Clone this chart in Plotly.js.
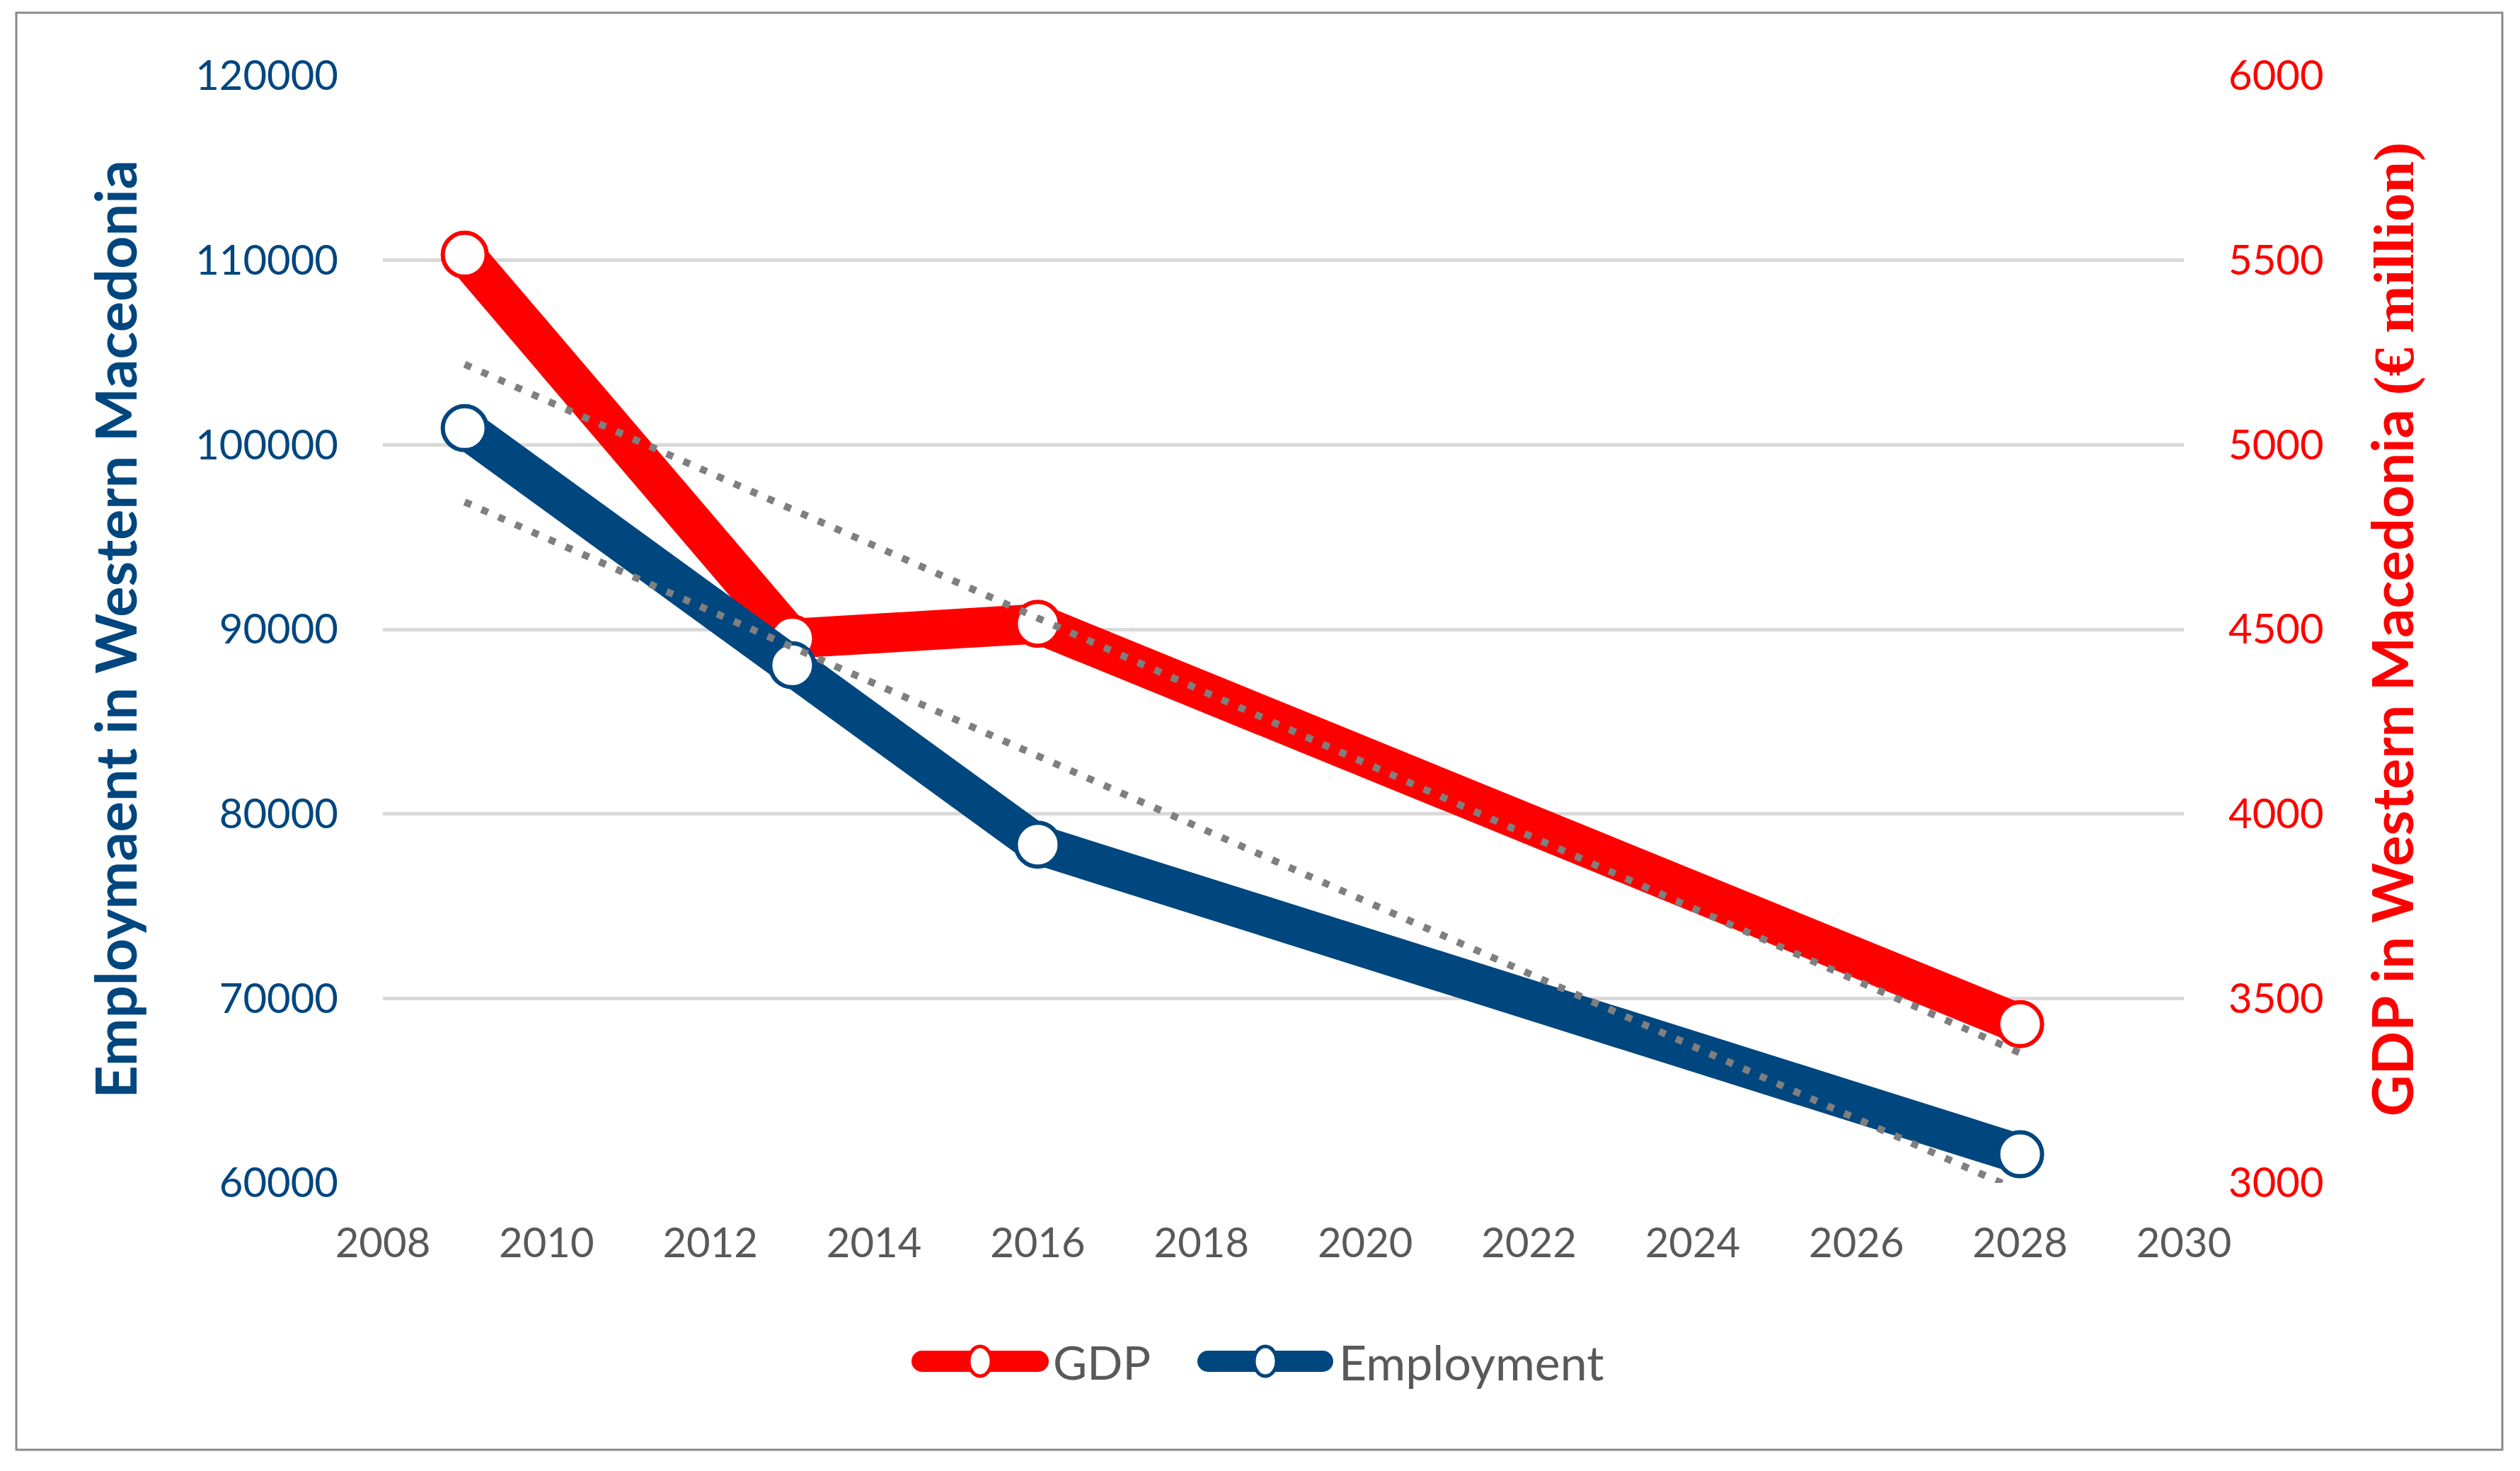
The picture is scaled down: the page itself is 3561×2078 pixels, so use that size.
<!DOCTYPE html>
<html>
<head>
<meta charset="utf-8">
<script src="https://cdn.plot.ly/plotly-3.0.1.min.js"></script>
<style>html,body{margin:0;padding:0;background:#fff;}#chart{width:3561px;height:2078px;}</style>
</head>
<body>
<div id="chart"></div>
<script>
// ---- data ----
const years = [2009, 2013, 2016, 2028];
const gdp = [5515, 4475, 4515, 3430];            // € million (right axis)
const employment = [100900, 88050, 78330, 61550]; // persons (left axis)
const trendYears = [2009, 2028];
const gdpTrend = [5218, 3352];
const employmentTrend = [96900, 59550];
const seriesNames = ['GDP', 'Employment'];
const xTickVals = [2008, 2010, 2012, 2014, 2016, 2018, 2020, 2022, 2024, 2026, 2028, 2030];

// ---- styling ----
const RED = '#FF0000', BLUE = '#00467F', GREY_TXT = '#595959', TREND = '#7F7F7F';
const W = 3561, H = 2078;
const L = 541, R = 3086, T = 107, B = 1671;
const px = v => (v - L) / (R - L);
const py = v => (B - v) / (B - T);

const traces = [
  {x: years, y: gdp, name: seriesNames[0], type: 'scatter', mode: 'lines+markers', yaxis: 'y',
   line: {color: RED, width: 56}, marker: {symbol: 'circle', size: 62, color: '#fff', line: {color: RED, width: 6}},
   showlegend: false, hoverinfo: 'skip'},
  {x: trendYears, y: gdpTrend, type: 'scatter', mode: 'lines', yaxis: 'y',
   line: {color: TREND, width: 10, dash: '10px,16px'}, showlegend: false, hoverinfo: 'skip'},
  {x: years, y: employment, name: seriesNames[1], type: 'scatter', mode: 'lines+markers', yaxis: 'y2',
   line: {color: BLUE, width: 56}, marker: {symbol: 'circle', size: 62, color: '#fff', line: {color: BLUE, width: 6}},
   showlegend: false, hoverinfo: 'skip'},
  {x: trendYears, y: employmentTrend, type: 'scatter', mode: 'lines', yaxis: 'y2',
   line: {color: TREND, width: 10, dash: '10px,16px'}, showlegend: false, hoverinfo: 'skip'}
];

// legend drawn as shapes + annotations
function legendItem(x0, x1, xm, yc, color) {
  const h = 15;
  return [
    {type: 'rect', xref: 'paper', yref: 'paper', x0: px(x0 + h), x1: px(x1 - h), y0: py(yc + h), y1: py(yc - h),
     fillcolor: color, line: {width: 0}},
    {type: 'circle', xref: 'paper', yref: 'paper', x0: px(x0), x1: px(x0 + 2 * h), y0: py(yc + h), y1: py(yc - h),
     fillcolor: color, line: {width: 0}},
    {type: 'circle', xref: 'paper', yref: 'paper', x0: px(x1 - 2 * h), x1: px(x1), y0: py(yc + h), y1: py(yc - h),
     fillcolor: color, line: {width: 0}},
    {type: 'circle', xref: 'paper', yref: 'paper', x0: px(xm - 16), x1: px(xm + 16), y0: py(yc + 21), y1: py(yc - 21),
     fillcolor: '#fff', line: {color: color, width: 5}}
  ];
}
const LEG_Y = 1923;
const shapes = [
  {type: 'rect', xref: 'paper', yref: 'paper', x0: px(23), x1: px(3536), y0: py(2048), y1: py(18),
   line: {color: '#898989', width: 3}, fillcolor: 'rgba(0,0,0,0)', layer: 'below'}
].concat(legendItem(1288, 1482, 1385, LEG_Y, RED), legendItem(1692, 1884, 1788, LEG_Y, BLUE));

const annotations = [
  {xref: 'paper', yref: 'paper', x: px(1486), y: py(LEG_Y), xanchor: 'left', yanchor: 'middle', showarrow: false,
   text: seriesNames[0], font: {family: 'Lato', size: 66, color: GREY_TXT}},
  {xref: 'paper', yref: 'paper', x: px(1890), y: py(LEG_Y), xanchor: 'left', yanchor: 'middle', showarrow: false,
   text: seriesNames[1], font: {family: 'Lato', size: 68, color: GREY_TXT}}
];

const layout = {
  width: W, height: H,
  margin: {l: L, r: W - R, t: T, b: H - B, pad: 0},
  paper_bgcolor: '#fff', plot_bgcolor: '#fff',
  font: {family: 'Lato', size: 58, color: GREY_TXT},
  showlegend: false,
  xaxis: {range: [2008, 2030], tickvals: xTickVals, ticktext: xTickVals.map(String), showgrid: false,
          zeroline: false, showline: false, ticks: '', ticklabelstandoff: 46,
          tickfont: {family: 'Lato', size: 58, color: GREY_TXT}},
  yaxis: {range: [3000, 6000], dtick: 500, tickformat: 'd', side: 'right', showgrid: true, gridcolor: '#D9D9D9', gridwidth: 5,
          zeroline: false, showline: false, ticks: '', ticklabelstandoff: 62,
          tickfont: {family: 'Lato', size: 58, color: RED},
          title: {text: 'GDP in Western Macedonia <span style="font-family:\'Liberation Serif\'">(€ million)</span>',
                  standoff: 70, font: {family: 'Lato', size: 81, color: RED, weight: 'bold'}}},
  yaxis2: {range: [60000, 120000], dtick: 10000, tickformat: 'd', side: 'left', overlaying: 'y', showgrid: false,
           zeroline: false, showline: false, ticks: '', ticklabelstandoff: 62,
           tickfont: {family: 'Lato', size: 58, color: BLUE},
           title: {text: 'Employmaent in Western Macedonia', standoff: 55,
                   font: {family: 'Lato', size: 81, color: BLUE, weight: 'bold'}}},
  shapes: shapes,
  annotations: annotations
};

Plotly.newPlot('chart', traces, layout, {staticPlot: true, displayModeBar: false});
</script>
</body>
</html>
